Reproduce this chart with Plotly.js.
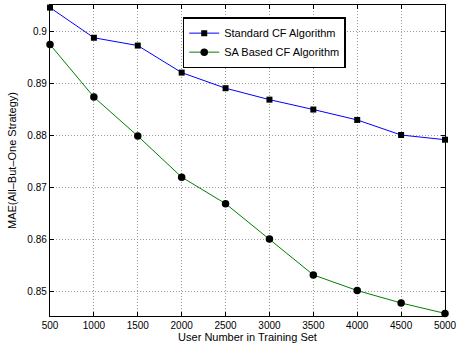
<!DOCTYPE html>
<html><head><meta charset="utf-8">
<script src="https://cdn.plot.ly/plotly-3.0.1.min.js"></script>
<style>html,body{margin:0;padding:0;background:#fff;}#plot{width:459px;height:349px;}</style>
</head><body><div id="plot"></div>
<script>
const users = [500,1000,1500,2000,2500,3000,3500,4000,4500,5000];
const standardCF = [0.9045,0.8987,0.8972,0.8920,0.8890,0.8868,0.8849,0.8829,0.8800,0.8791];
const saCF = [0.8974,0.8873,0.8798,0.8719,0.8668,0.8600,0.8531,0.8501,0.8477,0.8457];
const xTicks = [500,1000,1500,2000,2500,3000,3500,4000,4500,5000];
const yTicks = [0.85,0.86,0.87,0.88,0.89,0.9];
const yTickText = ['0.85','0.86','0.87','0.88','0.89','0.9'];

const font = 'Liberation Sans, Arial, Helvetica, sans-serif';
const traces = [
  {x: users, y: standardCF, name: 'Standard CF Algorithm', mode: 'lines+markers',
   line: {color: '#0000ff', width: 1}, marker: {symbol: 'square', size: 6, color: '#000'}, cliponaxis: false},
  {x: users, y: saCF, name: 'SA Based CF Algorithm', mode: 'lines+markers',
   line: {color: '#008000', width: 1}, marker: {symbol: 'circle', size: 7.5, color: '#000'}, cliponaxis: false}
];
const axisCommon = {
  showline: true, mirror: 'ticks', linecolor: '#000', linewidth: 1.2,
  ticks: 'inside', ticklen: 4, tickcolor: '#000',
  showgrid: true, gridcolor: '#9a9a9a', griddash: '1px,2px', gridwidth: 1,
  zeroline: false, tickfont: {family: font, size: 10, color: '#000'}
};
const layout = {
  width: 459, height: 349,
  margin: {l: 50, r: 14, t: 5, b: 33},
  paper_bgcolor: '#fff', plot_bgcolor: '#fff',
  font: {family: font, color: '#000'},
  xaxis: Object.assign({}, axisCommon, {
    range: [500, 5000], tickvals: xTicks, ticktext: xTicks.map(String),
    title: {text: 'User Number in Training Set', font: {family: font, size: 11}, standoff: 2}
  }),
  yaxis: Object.assign({}, axisCommon, {
    range: [0.8452, 0.905], tickvals: yTicks, ticktext: yTickText,
    title: {text: 'MAE(All\u2013But\u2013One Strategy)', font: {family: font, size: 11}, standoff: 8}
  }),
  legend: {x: 0.336, y: 0.961, xanchor: 'left', yanchor: 'top',
    bgcolor: '#fff', bordercolor: '#000', borderwidth: 1.5,
    font: {family: font, size: 11, color: '#000'}, tracegroupgap: 0, itemwidth: 30},
  showlegend: true
};
Plotly.newPlot('plot', traces, layout, {displayModeBar: false, staticPlot: true});
</script></body></html>
